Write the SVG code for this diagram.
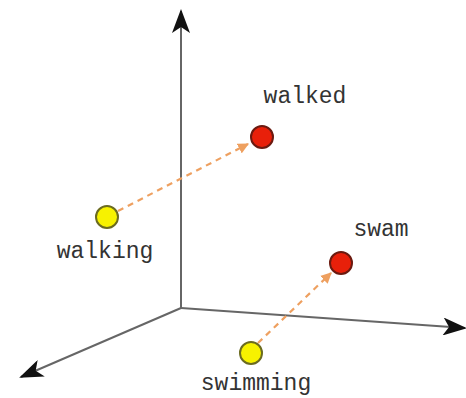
<svg xmlns="http://www.w3.org/2000/svg" width="466" height="398" viewBox="0 0 466 398">
<defs>
<style>
.axis{stroke:#666;stroke-width:2;fill:none}
.dash{stroke:#eea060;stroke-width:2.2;stroke-dasharray:6 5;fill:none}
.lbl{font-family:"Liberation Mono","Courier New",monospace;font-size:23px;fill:#333;text-anchor:middle}
.yel{fill:#f7f200;stroke:#6b6b20;stroke-width:2}
.red{fill:#e8200a;stroke:#6b1a10;stroke-width:2}
</style>
<marker id="ax" viewBox="0 0 24 18" refX="22" refY="9" markerWidth="24" markerHeight="18" markerUnits="userSpaceOnUse" orient="auto">
<path d="M0,0 L24,9 L0,18 L6,9 Z" fill="#111"/>
</marker>
<marker id="dh" viewBox="0 0 10 10" refX="9" refY="5" markerWidth="11" markerHeight="11" markerUnits="userSpaceOnUse" orient="auto">
<path d="M0,0 L10,5 L0,10 Z" fill="#eea060"/>
</marker>
</defs>
<g id="connectors">
<line class="axis" x1="181" y1="308" x2="181" y2="11" marker-end="url(#ax)"/>
<line class="axis" x1="181" y1="308" x2="21" y2="377" marker-end="url(#ax)"/>
<line class="axis" x1="181" y1="308" x2="465" y2="328" marker-end="url(#ax)"/>
<line class="dash" x1="118" y1="211" x2="248" y2="144" marker-end="url(#dh)"/>
<line class="dash" x1="258" y1="343" x2="331" y2="273" marker-end="url(#dh)"/>
</g>
<g id="walked">
<circle class="red" cx="262" cy="137" r="11"/>
<text class="lbl" x="305" y="103">walked</text>
</g>
<g id="walking">
<circle class="yel" cx="107" cy="217" r="11"/>
<text class="lbl" x="105" y="258">walking</text>
</g>
<g id="swam">
<circle class="red" cx="341" cy="263" r="11"/>
<text class="lbl" x="381" y="236">swam</text>
</g>
<g id="swimming">
<circle class="yel" cx="251" cy="353" r="11"/>
<text class="lbl" x="256" y="390">swimming</text>
</g>
</svg>
